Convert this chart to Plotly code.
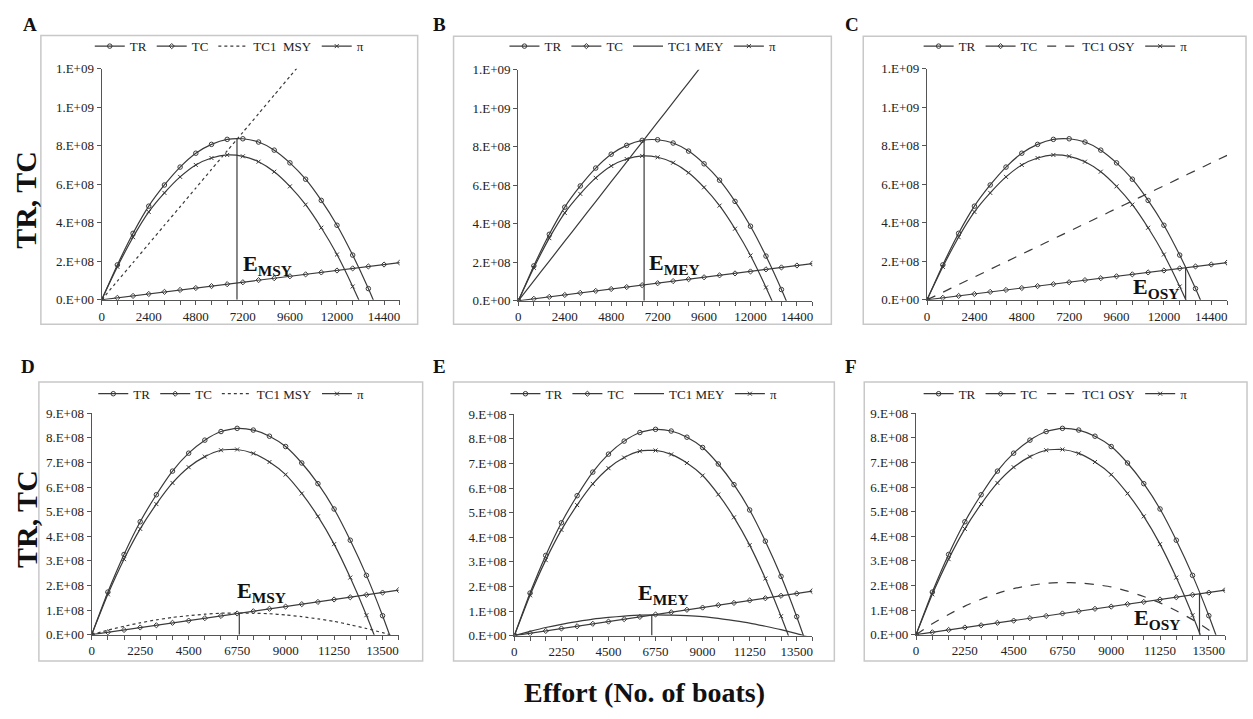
import plotly.graph_objects as go

W, H = 1253, 719
FONT = "Liberation Serif"
INK = "#3a3a3a"

# ---------------- data ----------------
effort_top = [0, 800, 1600, 2400, 3200, 4000, 4800, 5600, 6400, 7200,
              8000, 8800, 9600, 10400, 11200, 12000, 12800, 13600, 14400, 15200]
effort_bot = [0, 750, 1500, 2250, 3000, 3750, 4500, 5250, 6000, 6750,
              7500, 8250, 9000, 9750, 10500, 11250, 12000, 12750, 13500, 14250]
xtick_top = [0, 2400, 4800, 7200, 9600, 12000, 14400]
xtick_bot = [0, 2250, 4500, 6750, 9000, 11250, 13500]

# values in units of 1e8
tr_top = [0, 1.81, 3.45, 4.86, 5.96, 6.89, 7.61, 8.07, 8.33, 8.36,
          8.19, 7.77, 7.11, 6.26, 5.16, 3.87, 2.32, 0.58, -1.35, -3.4]
tc_top = [0, 0.10, 0.20, 0.30, 0.41, 0.51, 0.61, 0.71, 0.81, 0.91,
          1.02, 1.12, 1.22, 1.32, 1.42, 1.52, 1.63, 1.73, 1.83, 1.93]
pi_top = [0, 1.71, 3.25, 4.56, 5.55, 6.38, 7.00, 7.36, 7.52, 7.45,
          7.17, 6.65, 5.89, 4.94, 3.74, 2.35, 0.69, -1.15, -3.2, -5.3]
tc1_msy_top = [0, 0.97, 1.93, 2.90, 3.87, 4.83, 5.80, 6.77, 7.73, 8.70,
               9.66, 10.63, 11.60, 12.56, None, None, None, None, None, None]
tc1_mey_top = [0, 1.03, 2.06, 3.09, 4.12, 5.15, 6.18, 7.21, 8.24, 9.27,
               10.30, 11.33, 12.36, None, None, None, None, None, None, None]
tc1_osy_top = [0, 0.39, 0.79, 1.18, 1.58, 1.97, 2.37, 2.76, 3.16, 3.55,
               3.95, 4.34, 4.74, 5.13, 5.53, 5.92, 6.32, 6.71, 7.11, 7.50]

tr_bot = [0, 1.73, 3.26, 4.59, 5.69, 6.65, 7.38, 7.91, 8.26, 8.39,
          8.32, 8.07, 7.65, 6.98, 6.14, 5.11, 3.84, 2.41, 0.77, -1.05]
tc_bot = [0, 0.095, 0.19, 0.29, 0.38, 0.48, 0.57, 0.67, 0.76, 0.86,
          0.95, 1.05, 1.14, 1.24, 1.33, 1.43, 1.52, 1.62, 1.71, 1.81]
pi_bot = [0, 1.64, 3.07, 4.30, 5.31, 6.17, 6.81, 7.24, 7.50, 7.53,
          7.37, 7.02, 6.51, 5.74, 4.81, 3.68, 2.32, 0.79, -0.94, -2.86]
tc1_msy_bot = [0, 0.18, 0.34, 0.48, 0.60, 0.70, 0.77, 0.83, 0.87, 0.88,
               0.87, 0.85, 0.80, 0.73, 0.64, 0.54, 0.40, 0.25, 0.08, -0.11]
tc1_mey_bot = [0, 0.17, 0.33, 0.46, 0.57, 0.67, 0.74, 0.79, 0.83, 0.84,
               0.83, 0.81, 0.77, 0.70, 0.61, 0.51, 0.38, 0.24, 0.08, -0.10]
tc1_osy_bot = [0, 0.44, 0.82, 1.16, 1.44, 1.68, 1.87, 2.00, 2.09, 2.12,
               2.10, 2.04, 1.94, 1.77, 1.55, 1.29, 0.97, 0.61, 0.19, -0.27]

# reference-point effort and the height of its drop line (1e8)
e_star_top = [6900, 6500, 13100]
e_star_top_h = [8.37, 8.33, 1.67]
e_star_bot = [6850, 6570, 13070]
e_star_bot_h = [0.87, 0.84, 1.67]

ytick_top = [0, 2, 4, 6, 8, 10, 12]
ytick_top_txt = ["0.E+00", "2.E+08", "4.E+08", "6.E+08", "8.E+08", "1.E+09", "1.E+09"]
ytick_bot = [0, 1, 2, 3, 4, 5, 6, 7, 8, 9]
ytick_bot_txt = ["0.E+00", "1.E+08", "2.E+08", "3.E+08", "4.E+08",
                 "5.E+08", "6.E+08", "7.E+08", "8.E+08", "9.E+08"]

SC = 1e8

panels = [
    dict(letter="A", x=effort_top, xt=xtick_top, tr=tr_top, tc=tc_top, pi=pi_top, tc1=tc1_msy_top,
         tc1name="TC1  MSY", dash="dot", es=e_star_top[0], eh=e_star_top_h[0], sub="MSY",
         lab=(8439, 1.83), xd=(99, 398), yd=(63, 299), yt=ytick_top, ytt=ytick_top_txt,
         yr=12, box=(38, 29, 416, 324), leg=(227, 40), let=(27, 18)),
    dict(letter="B", x=effort_top, xt=xtick_top, tr=tr_top, tc=tc_top, pi=pi_top, tc1=tc1_mey_top,
         tc1name="TC1 MEY", dash="solid", es=e_star_top[1], eh=e_star_top_h[1], sub="MEY",
         lab=(8082, 1.92), xd=(517, 812), yd=(64, 300), yt=ytick_top, ytt=ytick_top_txt,
         yr=12, box=(452, 30, 831, 324), leg=(642, 40), let=(438, 18)),
    dict(letter="C", x=effort_top, xt=xtick_top, tr=tr_top, tc=tc_top, pi=pi_top, tc1=tc1_osy_top,
         tc1name="TC1 OSY", dash="dash", es=e_star_top[2], eh=e_star_top_h[2], sub="OSY",
         lab=(11593, 0.60), xd=(927, 1228), yd=(63, 299), yt=ytick_top, ytt=ytick_top_txt,
         yr=12, box=(863, 30, 1247, 324), leg=(1056, 40), let=(852, 18)),
    dict(letter="D", x=effort_bot, xt=xtick_bot, tr=tr_bot, tc=tc_bot, pi=pi_bot, tc1=tc1_msy_bot,
         tc1name="TC1 MSY", dash="dot", es=e_star_bot[0], eh=e_star_bot_h[0], sub="MSY",
         lab=(7898, 1.75), xd=(89, 397), yd=(415, 641), yt=ytick_bot, ytt=ytick_bot_txt,
         yr=9, box=(36, 383, 421, 668), leg=(229, 395), let=(25, 367)),
    dict(letter="E", x=effort_bot, xt=xtick_bot, tr=tr_bot, tc=tc_bot, pi=pi_bot, tc1=tc1_mey_bot,
         tc1name="TC1 MEY", dash="solid", es=e_star_bot[1], eh=e_star_bot_h[1], sub="MEY",
         lab=(7142, 1.70), xd=(513, 812), yd=(416, 642), yt=ytick_bot, ytt=ytick_bot_txt,
         yr=9, box=(452, 383, 834, 668), leg=(643, 395), let=(438, 367)),
    dict(letter="F", x=effort_bot, xt=xtick_bot, tr=tr_bot, tc=tc_bot, pi=pi_bot, tc1=tc1_osy_bot,
         tc1name="TC1 OSY", dash="dash", es=e_star_bot[2], eh=e_star_bot_h[2], sub="OSY",
         lab=(11089, 0.62), xd=(916, 1226), yd=(415, 641), yt=ytick_bot, ytt=ytick_bot_txt,
         yr=9, box=(864, 383, 1248, 668), leg=(1056, 395), let=(851, 367)),
]

def sc(v):
    return [None if a is None else a * SC for a in v]

fig = go.Figure()
layout = dict(width=W, height=H, margin=dict(l=0, r=0, t=0, b=0),
              paper_bgcolor="white", plot_bgcolor="white",
              font=dict(family=FONT, color="#222", size=13),
              showlegend=True)
shapes, annotations = [], []

for i, p in enumerate(panels):
    n = "" if i == 0 else str(i + 1)
    xa, ya = "x" + n, "y" + n
    lg = "legend" + n
    common = dict(xaxis=xa, yaxis=ya, legend=lg, hoverinfo="skip", cliponaxis=True)
    fig.add_trace(go.Scatter(x=p["x"], y=sc(p["tr"]), name="TR", mode="lines+markers",
                             line=dict(color=INK, width=1.2, shape="spline", smoothing=0.6),
                             marker=dict(symbol="circle-open", size=4.5, color=INK,
                                         line=dict(width=1)), **common))
    fig.add_trace(go.Scatter(x=p["x"], y=sc(p["tc"]), name="TC", mode="lines+markers",
                             line=dict(color=INK, width=1.2),
                             marker=dict(symbol="diamond-open", size=4, color=INK,
                                         line=dict(width=1)), **common))
    fig.add_trace(go.Scatter(x=p["x"], y=sc(p["tc1"]), name=p["tc1name"], mode="lines",
                             line=dict(color=INK, width=1.2, dash=p["dash"],
                                       shape="spline", smoothing=0.6), **common))
    fig.add_trace(go.Scatter(x=p["x"], y=sc(p["pi"]), name="π", mode="lines+markers",
                             line=dict(color=INK, width=1.2, shape="spline", smoothing=0.6),
                             marker=dict(symbol="x-thin-open", size=4, color=INK,
                                         line=dict(width=1, color=INK)), **common))
    # drop line at the reference effort
    fig.add_trace(go.Scatter(x=[p["es"], p["es"]], y=[0, p["eh"] * SC], mode="lines",
                             showlegend=False, line=dict(color=INK, width=1.2),
                             xaxis=xa, yaxis=ya, hoverinfo="skip"))

    xmax = p["x"][-1]
    layout["xaxis" + n] = dict(domain=[p["xd"][0] / W, p["xd"][1] / W], anchor=ya,
                              range=[0, xmax], tickvals=p["xt"],
                              ticktext=[str(v) for v in p["xt"]],
                              ticks="outside", ticklen=4, tickcolor="#555",
                              minor=dict(tickvals=p["x"], ticks="outside", ticklen=4,
                                         tickcolor="#555"),
                              showline=True, linecolor="#555", linewidth=1.3,
                              showgrid=False, zeroline=False,
                              tickfont=dict(size=13, family=FONT, color="#222"))
    layout["yaxis" + n] = dict(domain=[1 - p["yd"][1] / H, 1 - p["yd"][0] / H], anchor=xa,
                              range=[0, p["yr"] * SC], tickvals=[v * SC for v in p["yt"]],
                              ticktext=p["ytt"], ticks="outside", ticklen=4,
                              tickcolor="#555", showline=True, linecolor="#555",
                              linewidth=1.3, showgrid=False, zeroline=False,
                              tickfont=dict(size=13, family=FONT, color="#222"))
    layout[lg] = dict(orientation="h", x=p["leg"][0] / W, xanchor="center",
                      y=1 - p["leg"][1] / H, yanchor="middle", bgcolor="rgba(0,0,0,0)",
                      font=dict(size=13, family=FONT, color="#222"), itemwidth=30,
                      tracegroupgap=0, itemclick=False)
    bx = p["box"]
    shapes.append(dict(type="rect", xref="paper", yref="paper",
                       x0=bx[0] / W, x1=bx[2] / W, y0=1 - bx[3] / H, y1=1 - bx[1] / H,
                       line=dict(color="#c8c8c8", width=1.5), layer="below"))
    annotations.append(dict(text="<b>%s</b>" % p["letter"], xref="paper", yref="paper",
                            x=p["let"][0] / W, y=1 - p["let"][1] / H, showarrow=False,
                            xanchor="center", yanchor="middle",
                            font=dict(size=19, family=FONT, color="#111")))
    annotations.append(dict(text="<b>E<sub>%s</sub></b>" % p["sub"], xref=xa, yref=ya,
                            x=p["lab"][0], y=p["lab"][1] * SC, showarrow=False,
                            xanchor="center", yanchor="middle",
                            font=dict(size=22, family=FONT, color="#111")))

for yc in (197, 523):
    annotations.append(dict(text="<b>TR, TC</b>", xref="paper", yref="paper",
                            x=23 / W, y=1 - yc / H, textangle=-90, showarrow=False,
                            xanchor="center", yanchor="middle",
                            font=dict(size=30, family=FONT, color="#111")))
annotations.append(dict(text="<b>Effort (No. of boats)</b>", xref="paper", yref="paper",
                        x=644 / W, y=1 - 700 / H, showarrow=False, xanchor="center",
                        yanchor="middle", font=dict(size=28, family=FONT, color="#111")))

layout["shapes"] = shapes
layout["annotations"] = annotations
fig.update_layout(**layout)
fig.write_html("out.html", config={"displayModeBar": False},
               post_script="document.body.style.margin='0';document.body.style.overflow='hidden';")
